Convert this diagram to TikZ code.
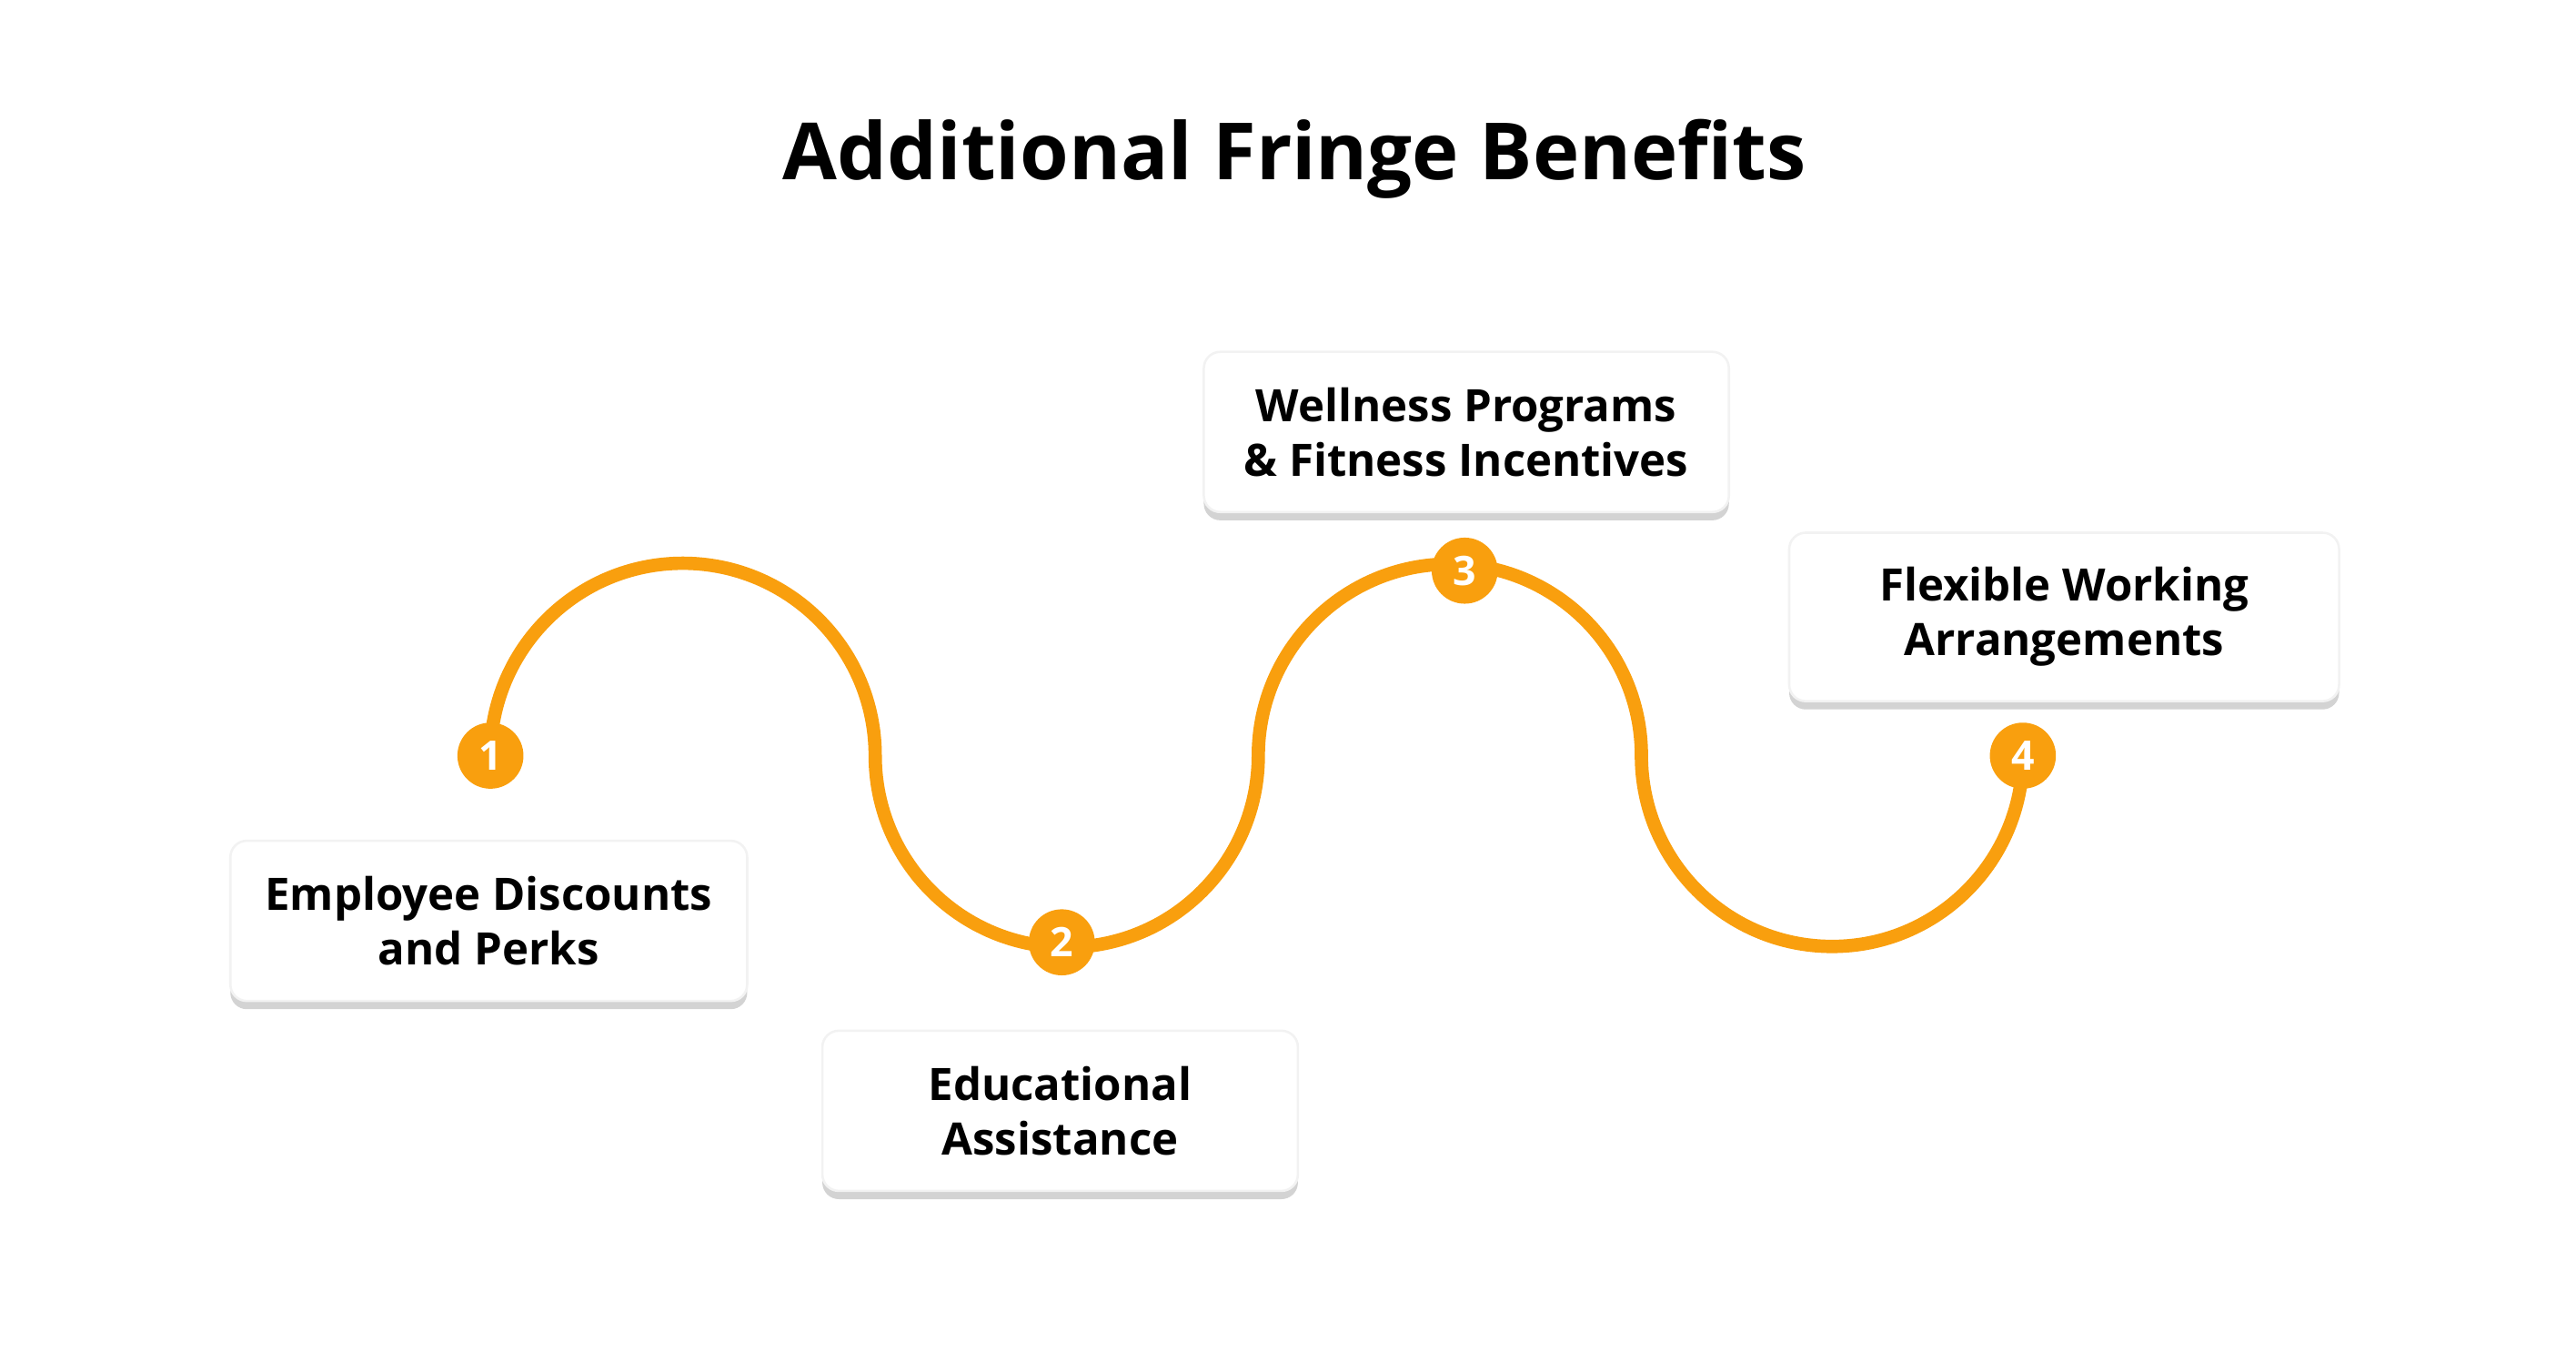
\documentclass[tikz,border=0pt]{standalone}
\usepackage{fontspec}
\setmainfont{Open Sans}
\usetikzlibrary{shadows}
\definecolor{wave}{HTML}{F99F0E}
\begin{document}
\begin{tikzpicture}[
                box/.style = {draw = black!5, fill = white, rounded corners = 1mm, minimum height = 0.97cm, align = center, font = \fontsize{7.7pt}{9.4pt}\selectfont\bfseries, drop shadow = {shadow xshift = 0pt, shadow yshift = -0.5mm, opacity = 0.35}},
                num/.style = {circle, fill = wave, inner sep = 0mm, minimum size = 4mm, text = white, font = \fontsize{7pt}{7pt}\selectfont\bfseries},
                arc/.style = {draw = wave, line width = 2.3pt},
            ]
            \useasboundingbox (0, 0) rectangle (15.6, 8.185);
            \node (title) at (7.84, 7.22) [font = \fontsize{13.6pt}{16pt}\selectfont\bfseries] {Additional Fringe Benefits};

            % wave
            \coordinate (W0) at (2.97, 3.61);
            \path[arc] (W0) arc (180:0:1.165) arc (180:360:1.16) arc (180:0:1.16) arc (180:360:1.155);

            \node (N1) at (2.97, 3.61) [num] {1};
            \node (N2) at (6.43, 2.48) [num] {2};
            \node (N3) at (8.87, 4.73) [num] {3};
            \node (N4) at (12.25, 3.61) [num] {4};

            \node (B1) at (2.96, 2.61) [box, minimum width = 3.13cm] {Employee Discounts\\and Perks};
            \node (B2) at (6.42, 1.46) [box, minimum width = 2.88cm] {Educational\\Assistance};
            \node (B3) at (8.88, 5.57) [box, minimum width = 3.18cm] {Wellness Programs\\\& Fitness Incentives};
            \node (B4) at (12.50, 4.45) [box, minimum width = 3.33cm, minimum height = 1.02cm] {Flexible Working\\Arrangements};
        \end{tikzpicture}
\end{document}
